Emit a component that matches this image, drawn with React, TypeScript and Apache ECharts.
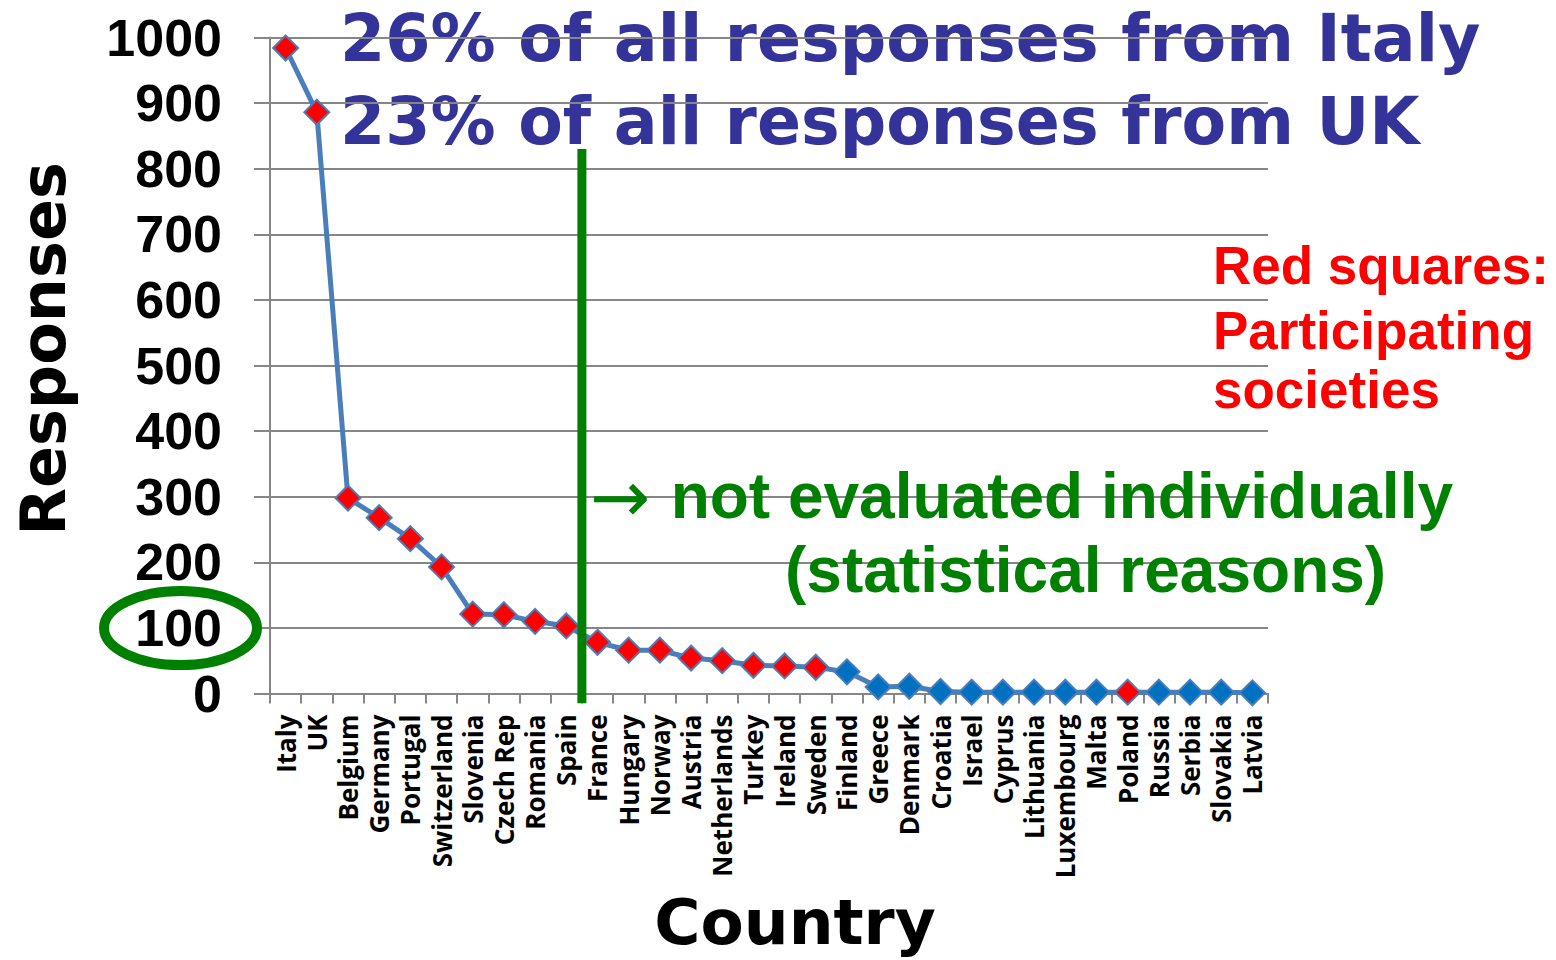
import React, { useEffect, useRef } from 'react';
import * as echarts from 'echarts';

const countries = ['Italy', 'UK', 'Belgium', 'Germany', 'Portugal', 'Switzerland', 'Slovenia', 'Czech Rep', 'Romania', 'Spain', 'France', 'Hungary', 'Norway', 'Austria', 'Netherlands', 'Turkey', 'Ireland', 'Sweden', 'Finland', 'Greece', 'Denmark', 'Croatia', 'Israel', 'Cyprus', 'Lithuania', 'Luxembourg', 'Malta', 'Poland', 'Russia', 'Serbia', 'Slovakia', 'Latvia'];
const responses = [984, 886, 298, 268, 236, 193, 121, 120, 110, 103, 78, 66, 66, 54, 50, 43, 42, 40, 33, 10, 11, 3, 2, 2, 2, 2, 2, 2, 2, 2, 2, 1];
const participating = [1, 1, 1, 1, 1, 1, 1, 1, 1, 1, 1, 1, 1, 1, 1, 1, 1, 1, 0, 0, 0, 0, 0, 0, 0, 0, 0, 1, 0, 0, 0, 0];
const yMin = 0;
const yMax = 1000;
const yInterval = 100;
const cutoffBoundary = 10; // boundary between Spain and France
const cutoffBottom = -15;
const cutoffTop = 830;
const headlines = ['26% of all responses from Italy', '23% of all responses from UK'];
const legendNote = ['Red squares:', 'Participating', 'societies'];
const cutoffNote = ['not evaluated individually', '(statistical reasons)'];
const xName = 'Country';
const yName = 'Responses';

const GRID = '#868686';
const LINE = '#4a7ebb';
const RED = '#ff0000';
const BLUE_MK = '#0070c0';
const GREEN = '#008000';
const TITLE = '#333399';

export default function App() {
  const ref = useRef<HTMLDivElement>(null);
  useEffect(() => {
    if (!ref.current) return;
    const chart = echarts.init(ref.current, null, { renderer: 'svg' });
    const txt = (text: string, x: number, y: number, o: any) => ({
      type: 'text',
      x,
      y,
      z: o.z ?? 10,
      rotation: o.rotation ?? 0,
      style: {
        text,
        fill: o.fill,
        fontSize: o.fontSize,
        fontWeight: o.fontWeight ?? 'bold',
        fontFamily: o.fontFamily,
        textAlign: o.align ?? 'left',
        align: o.align ?? 'left',
        textVerticalAlign: 'middle',
        verticalAlign: 'middle',
      },
    });
    const graphics: any[] = [
      txt(headlines[0], 340, 38, { fill: TITLE, fontSize: 65, fontFamily: 'DejaVu Sans', z: -1 }),
      txt(headlines[1], 340, 121, { fill: TITLE, fontSize: 65, fontFamily: 'DejaVu Sans', z: -1 }),
      txt(legendNote[0], 1213, 265, { fill: RED, fontSize: 53, fontFamily: 'Liberation Sans' }),
      txt(legendNote[1], 1213, 330, { fill: RED, fontSize: 53, fontFamily: 'Liberation Sans' }),
      txt(legendNote[2], 1213, 389, { fill: RED, fontSize: 53, fontFamily: 'Liberation Sans' }),
      txt('\u2192', 590, 497, { fill: GREEN, fontSize: 72, fontWeight: 'normal', fontFamily: 'DejaVu Sans' }),
      txt(cutoffNote[0], 1453, 496, { fill: GREEN, fontSize: 64, fontFamily: 'Liberation Sans', align: 'right' }),
      txt(cutoffNote[1], 785, 570, { fill: GREEN, fontSize: 64, fontFamily: 'Liberation Sans' }),
      txt(xName, 795, 922, { fill: '#000', fontSize: 63, fontFamily: 'DejaVu Sans', align: 'center' }),
      txt(yName, 43, 349, { fill: '#000', fontSize: 62, fontFamily: 'DejaVu Sans', align: 'center', rotation: Math.PI / 2 }),
      {
        type: 'ellipse',
        z: 10,
        shape: { cx: 180.5, cy: 628, rx: 76.5, ry: 37 },
        style: { fill: 'none', stroke: GREEN, lineWidth: 10 },
      },
    ];
    chart.setOption({
      animation: false,
      backgroundColor: '#ffffff',
      grid: { left: 270, right: 288, top: 37.5, bottom: 266.5, containLabel: false },
      xAxis: [
        {
          type: 'category',
          data: countries,
          boundaryGap: true,
          axisLine: { show: true, lineStyle: { color: GRID, width: 2 } },
          axisTick: { show: true, length: 10, lineStyle: { color: GRID, width: 2 } },
          axisLabel: {
            interval: 0,
            rotate: 90,
            margin: 21,
            color: '#000',
            fontFamily: 'Open Sans',
            fontWeight: 'bold',
            fontSize: 26,
          },
          splitLine: { show: false },
        },
        { type: 'value', min: 0, max: countries.length, show: false },
      ],
      yAxis: {
        type: 'value',
        min: yMin,
        max: yMax,
        interval: yInterval,
        axisLine: { show: true, lineStyle: { color: GRID, width: 2 } },
        axisTick: { show: true, length: 16, lineStyle: { color: GRID, width: 2 } },
        axisLabel: {
          margin: 48,
          color: '#000',
          fontFamily: 'Liberation Sans',
          fontWeight: 'bold',
          fontSize: 52,
          formatter: (v: number) => String(v),
        },
        splitLine: { show: true, lineStyle: { color: GRID, width: 2 } },
      },
      series: [
        {
          type: 'line',
          data: responses.map((v, i) => ({
            value: v,
            itemStyle: {
              color: participating[i] ? RED : BLUE_MK,
              borderColor: LINE,
              borderWidth: 2,
            },
          })),
          symbol: 'diamond',
          symbolSize: 25,
          showSymbol: true,
          lineStyle: { color: LINE, width: 5 },
          z: 3,
        },
        {
          type: 'line',
          xAxisIndex: 1,
          data: [[cutoffBoundary, cutoffBottom], [cutoffBoundary, cutoffTop]],
          symbol: 'none',
          clip: false,
          lineStyle: { color: GREEN, width: 9 },
          z: 5,
        },
      ],
      graphic: graphics,
    });
    return () => chart.dispose();
  }, []);
  return <div ref={ref} style={{ position: 'fixed', left: 0, top: 0, width: 1556, height: 960 }} />;
}
